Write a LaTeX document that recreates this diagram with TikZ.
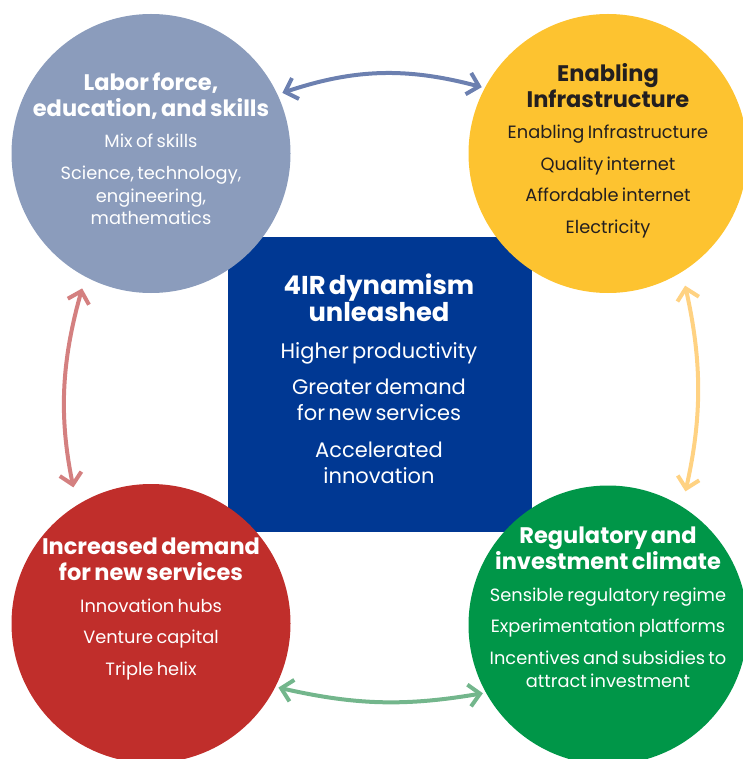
\documentclass[tikz,border=0pt]{standalone}
\usepackage{fontspec}
\setmainfont{Poppins}
\usetikzlibrary{arrows.meta, positioning}
\definecolor{laborblue}{RGB}{139, 156, 188}
\definecolor{infrayellow}{RGB}{253, 195, 48}
\definecolor{demandred}{RGB}{192, 46, 43}
\definecolor{climategreen}{RGB}{0, 150, 72}
\definecolor{corenavy}{RGB}{0, 56, 147}
\definecolor{inkdark}{RGB}{35, 31, 32}
\definecolor{linkblue}{RGB}{108, 128, 176}
\definecolor{linkred}{RGB}{212, 128, 128}
\definecolor{linkyellow}{RGB}{255, 210, 130}
\definecolor{linkgreen}{RGB}{115, 182, 140}
\newcommand{\pillarhead}{\fontsize{22.5}{26}\bfseries\selectfont}
\newcommand{\pillaritem}{\par\vspace{8.8pt}\fontsize{17.8}{22.7}\mdseries\selectfont}
\newcommand{\corehead}{\fontsize{25.8}{27.5}\bfseries\selectfont}
\newcommand{\coreitem}{\par\vspace{10.5pt}\fontsize{21}{26}\mdseries\selectfont}
\tikzset{
	pillar/.style={circle, minimum size=279pt, inner sep=0pt},
	core/.style={rectangle, minimum width=303.4pt, minimum height=295pt, inner sep=0pt, fill=corenavy},
	pillartext/.style={anchor=north, align=center, text width=270pt, inner sep=0pt, text=white},
	link/.style={{Straight Barb[length=11pt, width=22pt]}-{Straight Barb[length=11pt, width=22pt]}, line width=4pt},
}

\begin{document}
\begin{tikzpicture}[x=1pt, y=-1pt]
		\useasboundingbox (0,0) rectangle (742,759);
		\node[core] (core) at (380,384.2) {};
		\node[pillar, fill=laborblue] (labor) at (151,153.5) {};
		\node[pillar, fill=infrayellow] (infra) at (608,153.5) {};
		\node[pillar, fill=demandred] (demand) at (151,623.5) {};
		\node[pillar, fill=climategreen] (climate) at (608,625) {};
		\draw[link, linkblue, shorten <=5pt, shorten >=3pt] (labor.25.4) to[bend left=16.7] (infra.152.7);
		\draw[link, linkred, shorten <=12pt, shorten >=18pt] (labor.-118.7) to[bend right=13.7] (demand.122.5);
		\draw[link, linkyellow, shorten <=14pt, shorten >=15.5pt] (infra.-58.9) to[bend left=12.7] (climate.58.9);
		\draw[link, linkgreen, shorten <=3pt, shorten >=3pt] (demand.-27.3) to[bend right=11.2] (climate.-151.9);
		\node[pillartext] (labor-txt) at (151,72.6) {\pillarhead Labor force,\\ education, and skills\pillaritem Mix of skills\pillaritem Science, technology,\\ engineering,\\ mathematics\par};
		\node[pillartext, text=inkdark] (infra-txt) at (608,63.2) {\pillarhead Enabling\\ Infrastructure\pillaritem Enabling Infrastructure\pillaritem Quality internet\pillaritem Affordable internet\pillaritem Electricity\par};
		\node[pillartext, text width=290pt] (core-txt) at (379,273.4) {\corehead 4IR dynamism\\ unleashed\coreitem Higher productivity\coreitem Greater demand\\ for new services\coreitem Accelerated\\ innovation\par};
		\node[pillartext] (demand-txt) at (151,537.8) {\pillarhead Increased demand\\ for new services\pillaritem Innovation hubs\pillaritem Venture capital\pillaritem Triple helix\par};
		\node[pillartext] (climate-txt) at (608,527) {\pillarhead Regulatory and\\ investment climate\pillaritem Sensible regulatory regime\pillaritem Experimentation platforms\pillaritem Incentives and subsidies to\\ attract investment\par};
	\end{tikzpicture}
\end{document}
